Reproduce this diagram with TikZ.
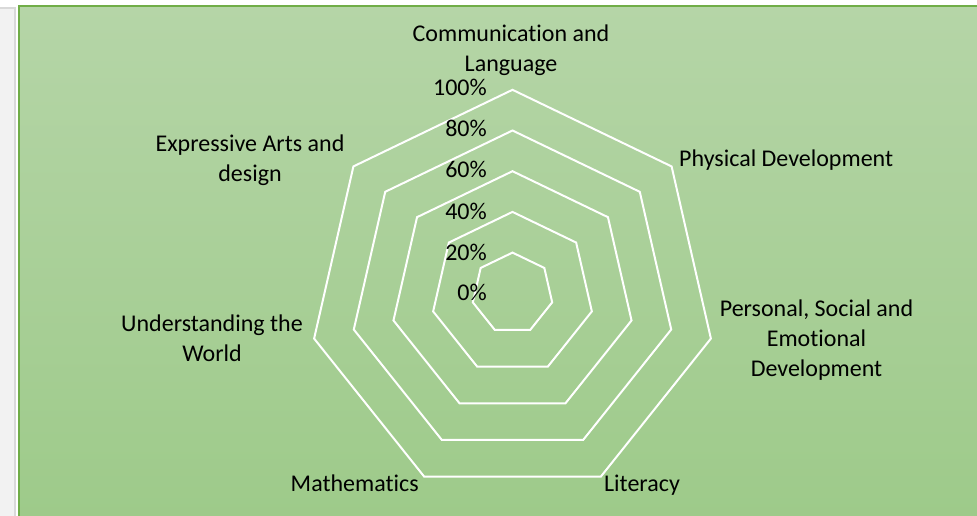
\documentclass[tikz,border=0pt]{standalone}
\usepackage{fontspec}
\setmainfont{Carlito}[Ligatures=NoCommon]
\usetikzlibrary{calc}
\definecolor{gtop}{HTML}{B5D5A7}
\definecolor{gbot}{HTML}{9DCA89}
\definecolor{gborder}{HTML}{70AD47}
\definecolor{panel}{HTML}{F2F2F2}
\definecolor{panelb}{HTML}{D9D9D9}
\begin{document}
\begin{tikzpicture}[x=1pt,y=-1pt,
  lbl/.style={font=\fontsize{24}{30}\selectfont, align=center, text=black, inner sep=0pt},
  pct/.style={font=\fontsize{24}{30}\selectfont, anchor=base east, inner sep=0pt, text=black},
  ring/.style={draw=white, line width=2pt, line join=miter}]
\useasboundingbox (0,0) rectangle (977,516);
\fill[white] (0,0) rectangle (977,516);
\fill[panel, draw=panelb, line width=1.5pt] (-5,8) rectangle (15,530);
\shade[top color=gtop, bottom color=gbot, draw=gborder, line width=2pt] (19,6) rectangle (990,530);
\coordinate (c) at (512.5,293.3);
\foreach \k in {1,...,5}{
  \pgfmathsetmacro{\r}{40.7*\k}
  \draw[ring] ($(c)+(-90:\r)$)
    \foreach \i in {1,...,6}{ -- ($(c)+({-90+\i*360/7}:\r)$) } -- cycle;
}
\node[pct] (p100) at (487,96) {100\%};
\node[pct] (p80) at (487,137) {80\%};
\node[pct] (p60) at (487,178) {60\%};
\node[pct] (p40) at (487,219) {40\%};
\node[pct] (p20) at (487,260) {20\%};
\node[pct] (p0) at (487,300) {0\%};
\node[lbl, anchor=base] (comm) at (511,71.7) {Communication and\\Language};
\node[lbl, anchor=base west] (phys) at (679,166.7) {Physical Development};
\node[lbl, anchor=base] (pers) at (816.5,376.7) {Personal, Social and\\Emotional\\Development};
\node[lbl, anchor=base] (lit) at (642,491.7) {Literacy};
\node[lbl, anchor=base] (math) at (354.7,491.7) {Mathematics};
\node[lbl, anchor=base] (und) at (212,361.7) {Understanding the\\World};
\node[lbl, anchor=base] (expr) at (250,181.7) {Expressive Arts and\\design};
\end{tikzpicture}
\end{document}
